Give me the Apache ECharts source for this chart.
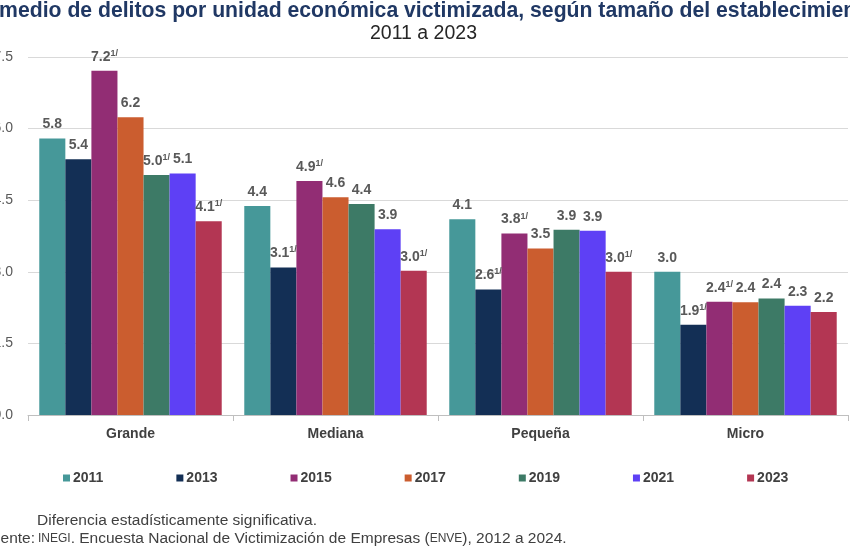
<!DOCTYPE html>
<html>
<head>
<meta charset="utf-8">
<script src="https://cdn.jsdelivr.net/npm/echarts@6/dist/echarts.min.js"></script>
<style>html,body{margin:0;padding:0;background:#fff}#c{width:850px;height:550px}</style>
</head>
<body>
<div id="c"></div>
<script>
var categories = ['Grande', 'Mediana', 'Pequeña', 'Micro'];
var years = ['2011', '2013', '2015', '2017', '2019', '2021', '2023'];
var v2011 = [5.79, 4.38, 4.10, 3.00];
var v2013 = [5.36, 3.09, 2.63, 1.89];
var v2015 = [7.21, 4.90, 3.80, 2.37];
var v2017 = [6.24, 4.56, 3.49, 2.36];
var v2019 = [5.03, 4.42, 3.88, 2.44];
var v2021 = [5.06, 3.89, 3.86, 2.29];
var v2023 = [4.06, 3.02, 3.00, 2.16];
// 1 = marked with "1/" (statistically significant difference)
var s2011 = [0, 0, 0, 0];
var s2013 = [0, 1, 1, 1];
var s2015 = [1, 1, 1, 1];
var s2017 = [0, 0, 0, 0];
var s2019 = [1, 0, 0, 0];
var s2021 = [0, 0, 0, 0];
var s2023 = [1, 1, 1, 0];
var yTicks = [0, 1.5, 3.0, 4.5, 6.0, 7.5];
var titleText = 'Promedio de delitos por unidad económica victimizada, según tamaño del establecimiento';
var subtitleText = '2011 a 2023';

var colors = ['#469899', '#132f55', '#922d74', '#cb5d2f', '#3d7a66', '#5e40f5', '#b33653'];
var values = [v2011, v2013, v2015, v2017, v2019, v2021, v2023];
var sigs = [s2011, s2013, s2015, s2017, s2019, s2021, s2023];
var FONT = '"Liberation Sans", Arial, sans-serif';
var NARROW = '"Liberation Sans Narrow", "Liberation Sans", Arial, sans-serif';

var series = years.map(function (y, i) {
  return {
    name: y,
    type: 'bar',
    barGap: '0%',
    barCategoryGap: '11%',
    itemStyle: { color: colors[i] },
    data: values[i],
    label: {
      show: true,
      position: 'top',
      distance: 6,
      formatter: function (p) {
        var t = '{v|' + p.value.toFixed(1) + '}';
        if (sigs[i][p.dataIndex]) t += '{s|1/}';
        return t;
      },
      rich: {
        v: { fontSize: 14, fontWeight: 'bold', color: '#595959', fontFamily: FONT, lineHeight: 16 },
        s: { fontSize: 9, fontWeight: 'bold', color: '#595959', fontFamily: FONT, verticalAlign: 'top', lineHeight: 16, padding: [0, 0, 6, 0] }
      }
    }
  };
});

var chart = echarts.init(document.getElementById('c'), null, { renderer: 'canvas' });
chart.setOption({
  animation: false,
  legend: {
    data: years,
    left: 58,
    top: 466,
    icon: 'rect',
    itemWidth: 7,
    itemHeight: 7,
    itemGap: 73,
    textStyle: { fontSize: 14, fontWeight: 'bold', color: '#404040', fontFamily: FONT, padding: [0, 0, 0, -2] }
  },
  grid: { left: 28, right: 2, top: 57, bottom: 135, containLabel: false, outerBoundsMode: 'none' },
  xAxis: {
    type: 'category',
    data: categories,
    axisLine: { lineStyle: { color: '#bfbfbf' } },
    axisTick: { show: true, length: 6, lineStyle: { color: '#bfbfbf' } },
    axisLabel: { fontSize: 14, fontWeight: 'bold', color: '#404040', fontFamily: FONT, margin: 12 }
  },
  yAxis: {
    type: 'value',
    min: 0,
    max: 7.5,
    interval: 1.5,
    axisLine: { show: false },
    axisTick: { show: false },
    splitLine: { lineStyle: { color: '#d9d9d9' } },
    axisLabel: {
      fontSize: 14, color: '#595959', fontFamily: FONT, margin: 15,
      formatter: function (v) { return yTicks.indexOf(v) >= 0 ? v.toFixed(1) : ''; }
    }
  },
  series: series,
  graphic: [
    { type: 'text', x: 420, y: 1, style: { text: titleText, align: 'center', verticalAlign: 'top', fontSize: 21.2, fontWeight: 'bold', fontFamily: FONT, fill: '#203864' } },
    { type: 'text', x: 423.5, y: 24, style: { text: subtitleText, align: 'center', verticalAlign: 'top', fontSize: 19.5, fontFamily: FONT, fill: '#262626' } },
    { type: 'text', left: 37, top: 513, style: { text: 'Diferencia estadísticamente significativa.', fontSize: 15.5, fontFamily: NARROW, fill: '#404040' } },
    { type: 'text', right: 815, top: 531, style: { text: 'Fuente:', fontSize: 15.5, fontFamily: NARROW, fill: '#404040' } },
    { type: 'text', left: 38, top: 531, style: {
        text: '{sc|INEGI}{n|. Encuesta Nacional de Victimización de Empresas (}{sc|ENVE}{n|), 2012 a 2024.}',
        rich: {
          n: { fontSize: 15.5, fontFamily: NARROW, fill: '#404040', color: '#404040' },
          sc: { fontSize: 12, fontFamily: NARROW, fill: '#404040', color: '#404040' }
        }
      } }
  ]
});
</script>
</body>
</html>
